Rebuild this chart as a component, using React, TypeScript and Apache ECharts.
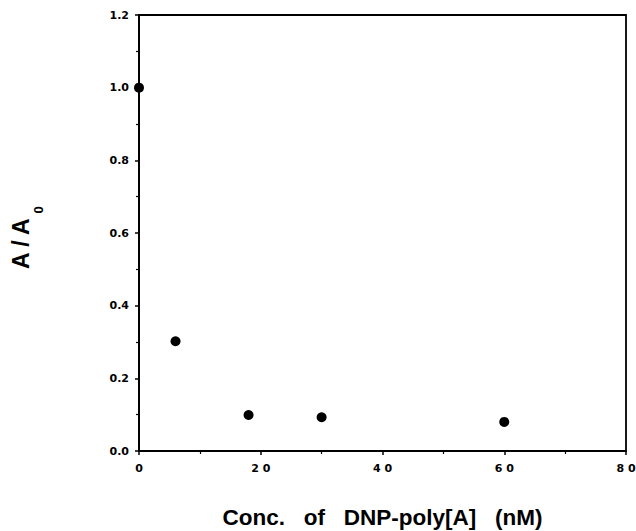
import React, { useEffect, useRef } from "react";
import * as echarts from "echarts";

const concentrations = [0, 6, 18, 30, 60];
const ratios = [1.0, 0.302, 0.099, 0.093, 0.08];
const xTickLabels: Record<number, string> = { 0: "0", 20: "2 0", 40: "4 0", 60: "6 0", 80: "8 0" };
const xTitle = "Conc.   of   DNP-poly[A]   (nM)";

export default function App() {
  const ref = useRef<HTMLDivElement>(null);
  useEffect(() => {
    const chart = echarts.init(ref.current!, null, { renderer: "svg" });
    const font = "Liberation Sans, Arial, sans-serif";
    const tickFont = "DejaVu Sans, sans-serif";
    chart.setOption({
      animation: false,
      backgroundColor: "#fff",
      grid: {
        left: 139,
        right: 10,
        top: 15,
        bottom: 80,
        containLabel: false,
        outerBoundsMode: "none",
        show: true,
        borderColor: "#000",
        borderWidth: 1.8,
        backgroundColor: "transparent",
      },
      xAxis: {
        type: "value",
        min: 0,
        max: 80,
        interval: 20,
        axisLine: { lineStyle: { color: "#000", width: 1.8 } },
        axisTick: { show: true, inside: false, length: 4, lineStyle: { color: "#000", width: 1.5 } },
        minorTick: { show: true, splitNumber: 2, length: 3, lineStyle: { color: "#000", width: 1.2 } },
        splitLine: { show: false },
        axisLabel: {
          margin: 12,
          color: "#000",
          fontFamily: tickFont,
          fontWeight: "bold",
          fontSize: 11,
          formatter: (v: number) => xTickLabels[v] ?? String(v),
        },
        name: xTitle,
        nameLocation: "middle",
        nameGap: 55,
        nameTextStyle: { color: "#000", fontFamily: font, fontWeight: "bold", fontSize: 22.5 },
      },
      yAxis: {
        type: "value",
        min: 0,
        max: 1.2,
        interval: 0.2,
        axisLine: { lineStyle: { color: "#000", width: 1.8 } },
        axisTick: { show: true, inside: false, length: 4, lineStyle: { color: "#000", width: 1.5 } },
        minorTick: { show: true, splitNumber: 2, length: 3, lineStyle: { color: "#000", width: 1.2 } },
        splitLine: { show: false },
        axisLabel: {
          margin: 10,
          color: "#000",
          fontFamily: tickFont,
          fontWeight: "bold",
          fontSize: 11,
          formatter: (v: number) => v.toFixed(1),
        },
        name: "{m|A / A}{s|0}",
        nameLocation: "middle",
        nameGap: 107,
        nameRotate: 90,
        nameTextStyle: {
          color: "#000",
          padding: [0, 10, 0, 0],
          rich: {
            m: { fontFamily: font, fontWeight: "bold", fontSize: 23, lineHeight: 23, verticalAlign: "top", color: "#000" },
            s: {
              fontFamily: font,
              fontWeight: "bold",
              fontSize: 13,
              lineHeight: 13,
              verticalAlign: "top",
              color: "#000",
              padding: [22.5, 0, 0, 4],
            },
          },
        },
      },
      series: [
        {
          type: "scatter",
          data: concentrations.map((c, i) => [c, ratios[i]]),
          symbol: "circle",
          symbolSize: 10,
          itemStyle: { color: "#000", opacity: 1 },
          clip: false,
        },
      ],
    });
    return () => chart.dispose();
  }, []);
  return <div ref={ref} style={{ width: 636, height: 531, position: "absolute", left: 0, top: 0 }} />;
}
